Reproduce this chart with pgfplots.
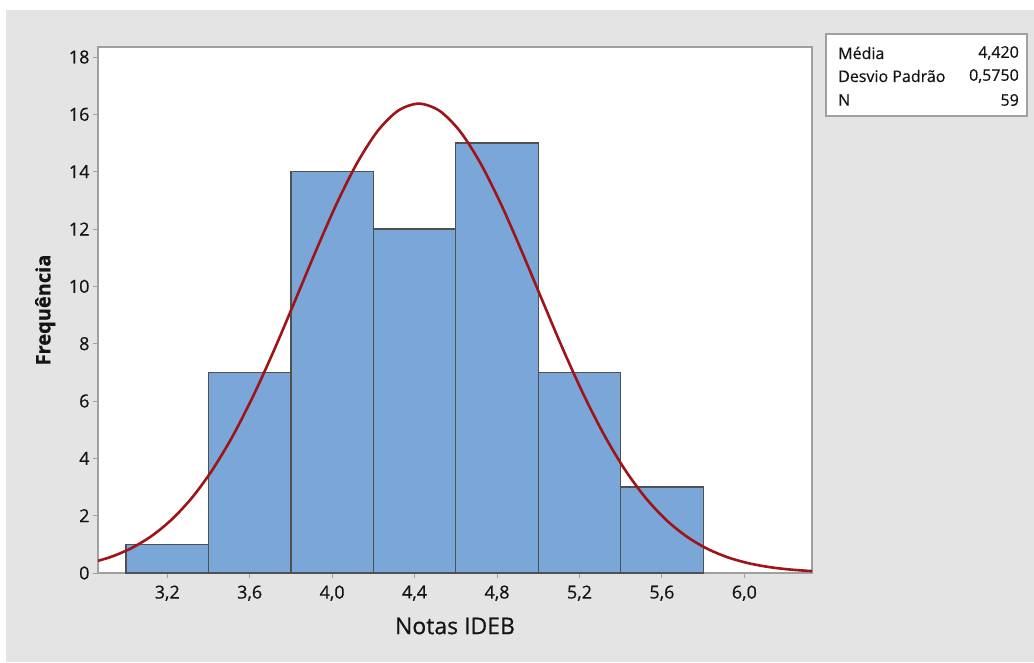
\documentclass[border=0pt]{standalone}
\usepackage{fontspec}
\setmainfont{Open Sans}[FakeBold=0.5]
\usepackage{pgfplots}
\pgfplotsset{compat=1.18}
\definecolor{bgray}{RGB}{228,228,228}
\definecolor{barfill}{RGB}{123,166,216}
\definecolor{baredge}{RGB}{80,80,80}
\definecolor{curvered}{RGB}{158,20,24}
\definecolor{framegray}{RGB}{160,160,160}
\definecolor{txt}{RGB}{20,20,20}
\begin{document}
\begin{tikzpicture}[x=1pt,y=1pt]
\useasboundingbox (0,0) rectangle (1034,662);
\fill[white] (0,0) rectangle (1034,662);
\fill[bgray] (6,0) rectangle (1034,652);
\begin{axis}[
  at={(98pt,89pt)}, anchor=south west,
  scale only axis, width=714pt, height=526pt,
  xmin=2.864, xmax=6.328, ymin=0, ymax=18.35,
  axis background/.style={fill=white},
  axis line style={draw=framegray, line width=1.2pt},
  tick align=outside, major tick length=5pt,
  tick style={draw=framegray, line width=1pt},
  xtick={3.2,3.6,4.0,4.4,4.8,5.2,5.6,6.0},
  ytick={0,2,4,6,8,10,12,14,16,18},
  xtick pos=lower, ytick pos=left,
  /pgf/number format/assume math mode=true,
  x tick label style={font=\fontsize{18}{18}\selectfont, text=txt, yshift=-4pt,
    /pgf/number format/fixed, /pgf/number format/fixed zerofill,
    /pgf/number format/precision=1, /pgf/number format/use comma},
  y tick label style={font=\fontsize{18}{18}\selectfont, text=txt},
  xlabel={Notas IDEB},
  ylabel={\bfseries Frequência},
  xlabel style={font=\fontsize{23}{23}\selectfont, text=txt, at={(axis description cs:0.5,-0.1008)}, anchor=center},
  ylabel style={font=\fontsize{20}{20}\selectfont, text=txt, at={(axis description cs:-0.074,0.5)}, anchor=center},
]
\addplot[ybar interval, fill=barfill, draw=baredge, line width=1.3pt]
  coordinates {(3.0,1) (3.4,7) (3.8,14) (4.2,12) (4.6,15) (5.0,7) (5.4,3) (5.8,3)};
\addplot[curvered, line width=2.6pt, smooth] coordinates {
(2.82,0.341) (2.92,0.545) (3.02,0.845) (3.12,1.271) (3.22,1.855) (3.32,2.627)
(3.42,3.609) (3.52,4.810) (3.62,6.220) (3.72,7.804) (3.82,9.500) (3.92,11.219)
(4.02,12.855) (4.12,14.290) (4.22,15.413) (4.32,16.128) (4.42,16.374) (4.52,16.128)
(4.62,15.413) (4.72,14.290) (4.82,12.855) (4.92,11.219) (5.02,9.500) (5.12,7.804)
(5.22,6.220) (5.32,4.810) (5.42,3.609) (5.52,2.627) (5.62,1.855) (5.72,1.271)
(5.82,0.845) (5.92,0.545) (6.02,0.341) (6.12,0.207) (6.22,0.122) (6.32,0.0697)
(6.42,0.0380)};
\end{axis}
\draw[framegray, fill=white, line width=1.2pt] (826,546) rectangle (1027,628);
\begin{scope}[every node/.style={font=\fontsize{16}{16}\selectfont, text=txt, inner sep=0pt}]
\node[anchor=west] at (838,609) {Média};
\node[anchor=west] at (838,586) {Desvio Padrão};
\node[anchor=west] at (838,562) {N};
\node[anchor=east] at (1019,609) {4,420};
\node[anchor=east] at (1019,586) {0,5750};
\node[anchor=east] at (1019,562) {59};
\end{scope}
\end{tikzpicture}
\end{document}
